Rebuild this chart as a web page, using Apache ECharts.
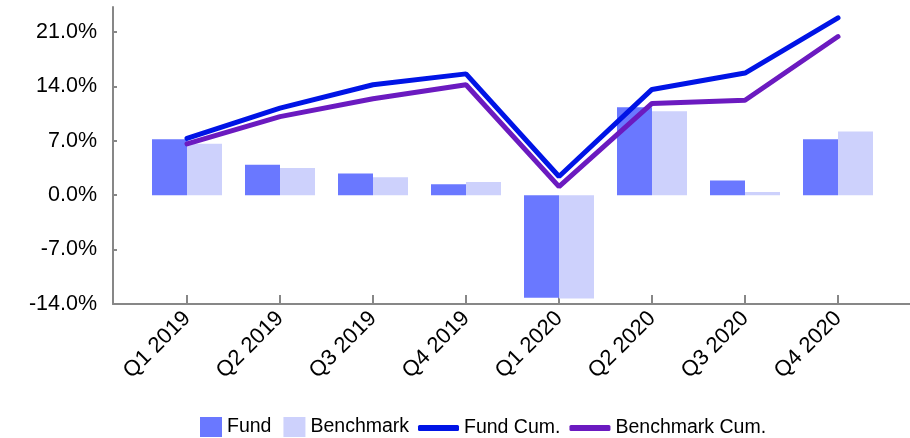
<!DOCTYPE html>
<html>
<head>
<meta charset="utf-8">
<script src="https://cdn.jsdelivr.net/npm/echarts@6/dist/echarts.min.js"></script>
<style>
  html, body { margin: 0; padding: 0; background: #fff; }
  #chart { width: 910px; height: 438px; }
</style>
</head>
<body>
<div id="chart"></div>
<script>
// quarters on the x axis
var quarters = ['Q1 2019', 'Q2 2019', 'Q3 2019', 'Q4 2019', 'Q1 2020', 'Q2 2020', 'Q3 2020', 'Q4 2020'];
// quarterly returns (%)
var fund = [7.2, 3.9, 2.8, 1.4, -13.2, 11.3, 1.9, 7.2];
var benchmark = [6.6, 3.5, 2.3, 1.7, -13.3, 10.8, 0.4, 8.2];
// cumulative returns (%)
var fundCum = [7.3, 11.2, 14.2, 15.6, 2.4, 13.6, 15.7, 22.8];
var benchmarkCum = [6.6, 10.1, 12.4, 14.2, 1.1, 11.8, 12.2, 20.4];
// y tick labels
var yTicks = [-14, -7, 0, 7, 14, 21];

var font = 'Liberation Sans, Arial, sans-serif';
var axisGrey = '#878787';

var chart = echarts.init(document.getElementById('chart'));
chart.setOption({
    animation: false,
    textStyle: { fontFamily: font, color: '#000' },
    grid: [
        // outer frame: carries the visible y axis and the long x axis line
        { left: 113, right: 0, top: 7, height: 297, outerBoundsMode: 'none' },
        // data area
        { left: 140.5, right: 25.5, top: 7, height: 297, outerBoundsMode: 'none' }
    ],
    xAxis: [
        {
            gridIndex: 0, type: 'value', min: 0, max: 1,
            axisLine: { show: true, onZero: false, lineStyle: { color: axisGrey, width: 2 } },
            axisTick: { show: false }, axisLabel: { show: false }, splitLine: { show: false }
        },
        {
            gridIndex: 1, type: 'category', data: quarters,
            axisLine: { show: false, onZero: false },
            axisTick: { show: true, alignWithLabel: true, inside: true, length: 9, lineStyle: { color: axisGrey, width: 2 } },
            axisLabel: { rotate: 45, margin: 11, fontSize: 22, color: '#000', fontFamily: font },
            splitLine: { show: false }
        }
    ],
    yAxis: [
        {
            gridIndex: 0, type: 'value', min: -14, max: 24.2,
            axisLine: { show: true, lineStyle: { color: axisGrey, width: 2 } },
            axisTick: { show: true, inside: true, length: 4, customValues: yTicks, lineStyle: { color: axisGrey, width: 2 } },
            axisLabel: {
                customValues: yTicks, margin: 16, fontSize: 21.5, color: '#000', fontFamily: font,
                formatter: function (v) { return v.toFixed(1) + '%'; }
            },
            splitLine: { show: false }
        },
        {
            gridIndex: 1, type: 'value', min: -14, max: 24.2, show: false
        }
    ],
    legend: [
        {
            left: 200, top: 417, padding: 0, itemWidth: 22, itemHeight: 20, itemGap: 12,
            icon: 'rect',
            textStyle: { fontSize: 19.5, color: '#000', fontFamily: font },
            data: ['Fund', 'Benchmark']
        },
        {
            left: 418, top: 418, padding: 0, itemWidth: 41, itemHeight: 6, itemGap: 9,
            icon: 'roundRect',
            textStyle: { fontSize: 19.5, color: '#000', fontFamily: font },
            data: ['Fund Cum.', 'Benchmark Cum.']
        }
    ],
    series: [
        {
            name: 'Fund', type: 'bar', xAxisIndex: 1, yAxisIndex: 1,
            data: fund, barWidth: 35, barGap: '0%',
            itemStyle: { color: '#6a78ff' }
        },
        {
            name: 'Benchmark', type: 'bar', xAxisIndex: 1, yAxisIndex: 1,
            data: benchmark, barWidth: 35, barGap: '0%',
            itemStyle: { color: '#cdd1fc' }
        },
        {
            name: 'Benchmark Cum.', type: 'line', xAxisIndex: 1, yAxisIndex: 1,
            data: benchmarkCum, symbol: 'none',
            itemStyle: { color: '#6b1ac0' },
            lineStyle: { color: '#6b1ac0', width: 5, cap: 'round' }
        },
        {
            name: 'Fund Cum.', type: 'line', xAxisIndex: 1, yAxisIndex: 1,
            data: fundCum, symbol: 'none',
            itemStyle: { color: '#0014e6' },
            lineStyle: { color: '#0014e6', width: 5, cap: 'round' }
        }
    ]
});
</script>
</body>
</html>
